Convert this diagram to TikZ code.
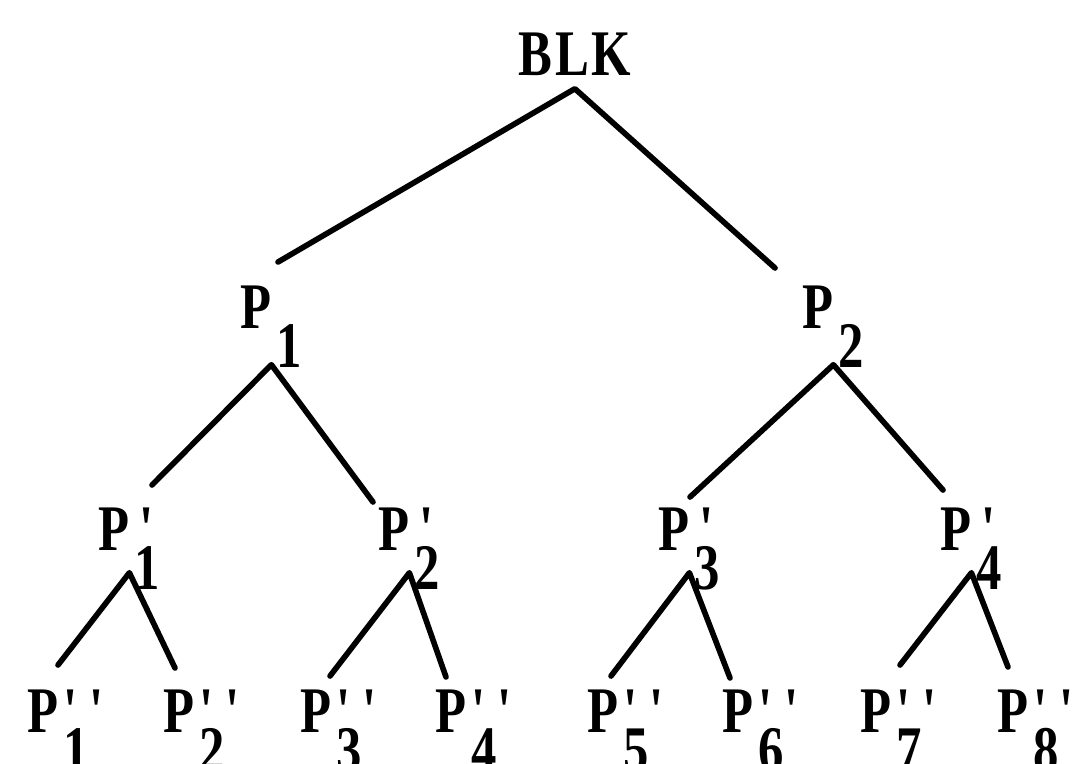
\documentclass[tikz,border=0pt]{standalone}
\usepackage{fontspec}
\setmainfont{Liberation Serif}[FakeStretch=0.78]
\newcommand\pr{\textquotesingle}
\newcommand\plbl[2]{P\kern0.05cm\rlap{#1}\raisebox{-0.39cm}{#2}}
\begin{document}
\begin{tikzpicture}[
  x=0.01cm, y=-0.01cm,
  font=\fontsize{18.5}{20}\selectfont\bfseries,
  lbl/.style={inner sep=0pt, anchor=base west},
  lvl1/.style={lbl, text depth=0.36cm},
  lvl2/.style={lbl, text depth=0.22cm},
  edge/.style={line width=1.6pt, line cap=round, line join=round}]
\useasboundingbox (0,0) rectangle (1080,763);
\clip (0,0) rectangle (1080,763);
% labels
\node[lbl, text depth=0.13cm] (blk) at (518,75)
  {\addfontfeature{LetterSpace=4}BLK};
\node[lvl1] (p1) at (240,328) {\plbl{}{1}};
\node[lvl1] (p2) at (802,328) {\plbl{}{2}};
\node[lvl2] (q1) at (98,550)  {\plbl{\kern0.05cm\pr}{1}};
\node[lvl2] (q2) at (378,550) {\plbl{\kern0.05cm\pr}{2}};
\node[lvl2] (q3) at (658,550) {\plbl{\kern0.05cm\pr}{3}};
\node[lvl2] (q4) at (940,550) {\plbl{\kern0.05cm\pr}{4}};
\foreach \x [count=\i] in {27,163,300,435,587,722,860,997}
  \node[lbl] (r\i) at (\x,732) {\plbl{\pr\kern0.08cm\pr}{\i}};
% free ends of the branches
\coordinate (blk-l) at (278,262); \coordinate (blk-r) at (775,268);
\coordinate (p1-l) at (152,485);  \coordinate (p1-r) at (373,502);
\coordinate (p2-l) at (690,497);  \coordinate (p2-r) at (943,490);
\coordinate (q1-l) at (58,665);   \coordinate (q1-r) at (175,668);
\coordinate (q2-l) at (330,676);  \coordinate (q2-r) at (446,677);
\coordinate (q3-l) at (611,676);  \coordinate (q3-r) at (730,678);
\coordinate (q4-l) at (900,665);  \coordinate (q4-r) at (1008,667);
\foreach \n in {blk,p1,p2,q1,q2,q3,q4}
  \draw[edge] (\n-l) -- (\n.south) -- (\n-r);
\end{tikzpicture}
\end{document}
